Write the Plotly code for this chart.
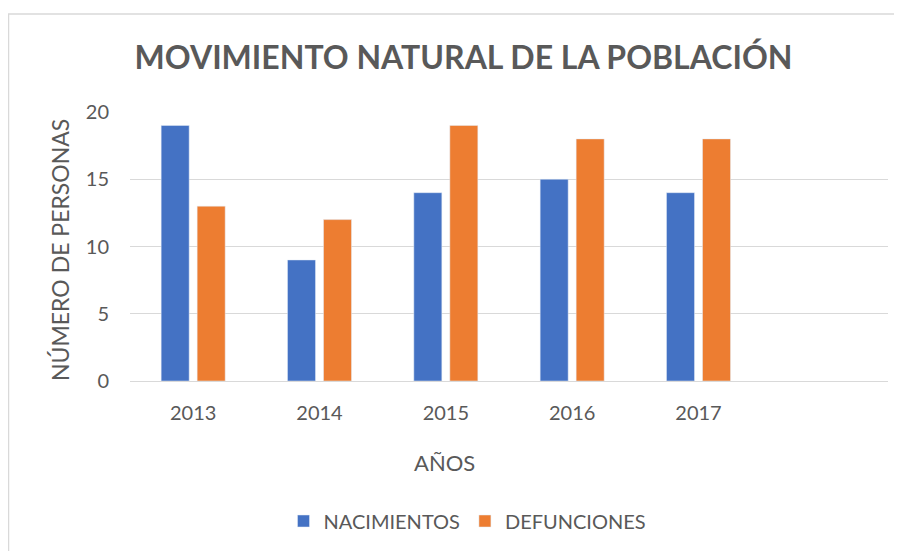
import plotly.graph_objects as go

years = ["2013", "2014", "2015", "2016", "2017"]
nacimientos = [19, 9, 14, 15, 14]
defunciones = [13, 12, 19, 18, 18]
y_ticks = [0, 5, 10, 15, 20]

title_text = "MOVIMIENTO NATURAL DE LA POBLACIÓN"
x_title = "AÑOS"
y_title = "NÚMERO DE PERSONAS"

# page body has an 8px margin, so the figure is drawn 8px smaller
W, H = 894, 543
L, R, T, B = 122, 14, 104, 170
pw, ph = W - L - R, H - T - B


def px(x):
    return (x - L) / pw


def py(y):
    return (H - B - y) / ph


gray = "#595959"
font_fam = "Lato, 'Open Sans', sans-serif"

fig = go.Figure()
fig.add_trace(go.Bar(name="NACIMIENTOS", x=years, y=nacimientos, marker_color="#4472C4"))
fig.add_trace(go.Bar(name="DEFUNCIONES", x=years, y=defunciones, marker_color="#ED7D31"))

fig.update_layout(
    width=W, height=H,
    margin=dict(l=L, r=R, t=T, b=B, autoexpand=False),
    paper_bgcolor="white", plot_bgcolor="white",
    barmode="group", bargap=0.43, bargroupgap=0.222,
    font=dict(family=font_fam, color=gray),
    title=dict(text="<b>" + title_text + "</b>", x=455.5 / W, xanchor="center",
               y=1 - 50 / H, yanchor="middle",
               font=dict(size=32, color=gray, family=font_fam)),
    showlegend=True,
    legend=dict(orientation="h", x=px(459.5), xanchor="center",
                y=py(513), yanchor="middle",
                font=dict(size=20, color=gray), itemwidth=30,
                traceorder="normal"),
    xaxis=dict(type="category", range=[-0.5, 5.5], showgrid=False,
               showline=True, linecolor="#d9d9d9", linewidth=1,
               ticks="", tickfont=dict(size=20, color=gray), ticklabelstandoff=14),
    yaxis=dict(range=[0, 20], tickvals=y_ticks, showgrid=True, gridcolor="#d9d9d9",
               gridwidth=1, zeroline=False, showline=False, ticks="",
               tickfont=dict(size=20, color=gray), ticklabelstandoff=20),
    annotations=[
        dict(text=x_title, xref="paper", yref="paper",
             x=px(436), y=py(454), xanchor="center", yanchor="middle",
             showarrow=False, font=dict(size=22, color=gray)),
        dict(text=y_title, xref="paper", yref="paper", textangle=-90,
             x=px(52), y=py(242), xanchor="center", yanchor="middle",
             showarrow=False, font=dict(size=23, color=gray)),
    ],
    shapes=[dict(type="rect", xref="paper", yref="paper",
                 x0=px(0.5), x1=px(910), y0=py(560), y1=py(6),
                 line=dict(color="#d9d9d9", width=1.5), fillcolor="rgba(0,0,0,0)",
                 layer="below")],
)

fig.write_html("out.html")
